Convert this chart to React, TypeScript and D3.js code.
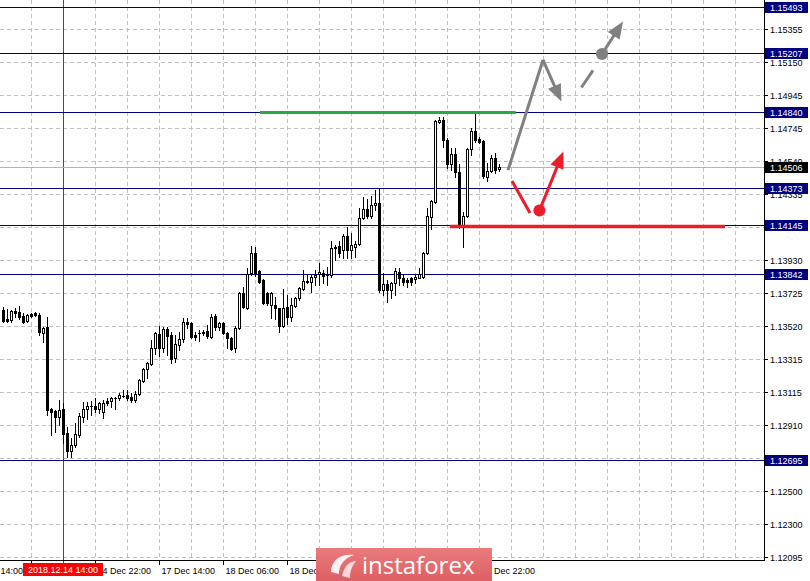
import React from "react";
import * as d3 from "d3";

// ---- data (EURUSD H1 candles) ----
const openP = [
  1.1362, 1.13565, 1.13559, 1.13614, 1.13608, 1.13583, 1.13553, 1.13596, 1.13602, 1.1359,
  1.13478, 1.13515, 1.13009, 1.12997, 1.1296, 1.13009, 1.12861, 1.1275, 1.12787, 1.12849,
  1.1296, 1.13009, 1.13028, 1.13028, 1.13009, 1.12991, 1.13059, 1.13059, 1.13077, 1.13077,
  1.1309, 1.13096, 1.13083, 1.13065, 1.13102, 1.13182, 1.13256, 1.13287, 1.13386, 1.13472,
  1.13386, 1.13503, 1.13466, 1.13324, 1.13404, 1.13441, 1.13547, 1.1354, 1.13466, 1.13478,
  1.13478, 1.13491, 1.13454, 1.13583, 1.13515, 1.1354, 1.13478, 1.13448, 1.13386, 1.13509,
  1.13725, 1.13633, 1.13849, 1.13972, 1.13861, 1.13805, 1.13725, 1.13651, 1.13651, 1.13633,
  1.13522, 1.13639, 1.13577, 1.13645, 1.13694, 1.1375, 1.13793, 1.13793, 1.13824, 1.13843,
  1.13849, 1.13836, 1.13836, 1.14003, 1.14015, 1.1399, 1.14077, 1.1399, 1.14009, 1.14027,
  1.14188, 1.14243, 1.142, 1.14268, 1.14281, 1.13744, 1.13781, 1.13744, 1.13787, 1.13855,
  1.13818, 1.13805, 1.13818, 1.13811, 1.13818, 1.13824, 1.13972, 1.14194, 1.14287, 1.14781,
  1.14793, 1.1467, 1.14522, 1.14583, 1.14472, 1.14145, 1.142, 1.14614, 1.14725, 1.14676,
  1.14664, 1.14441, 1.14478, 1.14559, 1.14491,
];
const highP = [
  1.13639, 1.13626, 1.1362, 1.13633, 1.13645, 1.13602, 1.13596, 1.13602, 1.13608, 1.13602,
  1.13515, 1.13577, 1.13016, 1.13003, 1.13065, 1.13046, 1.12898, 1.1283, 1.12923, 1.12985,
  1.13052, 1.13052, 1.13059, 1.13077, 1.13052, 1.13065, 1.13077, 1.13083, 1.13083, 1.13108,
  1.13127, 1.13127, 1.13108, 1.1312, 1.13194, 1.13262, 1.13299, 1.13435, 1.13485, 1.13522,
  1.13515, 1.13515, 1.13485, 1.13466, 1.13485, 1.13571, 1.13571, 1.13547, 1.13485, 1.13497,
  1.13497, 1.13528, 1.13596, 1.13596, 1.13547, 1.13547, 1.13485, 1.13454, 1.13522, 1.13731,
  1.13762, 1.1388, 1.14015, 1.14009, 1.13867, 1.13811, 1.13731, 1.13731, 1.137, 1.13633,
  1.1375, 1.13713, 1.13694, 1.137, 1.13762, 1.13867, 1.13836, 1.13836, 1.13867, 1.1391,
  1.13867, 1.13886, 1.14046, 1.14021, 1.14046, 1.14089, 1.14132, 1.14095, 1.14046, 1.1425,
  1.14318, 1.14305, 1.14324, 1.14361, 1.14373, 1.13849, 1.13805, 1.13793, 1.1388, 1.1388,
  1.13836, 1.13818, 1.13824, 1.13836, 1.1388, 1.13978, 1.1425, 1.14299, 1.14793, 1.14812,
  1.14812, 1.14682, 1.1462, 1.1462, 1.14521, 1.14225, 1.1462, 1.14744, 1.1483, 1.14688,
  1.1467, 1.14528, 1.14577, 1.14589, 1.14521,
];
const lowP = [
  1.13547, 1.13547, 1.13547, 1.13577, 1.13565, 1.1354, 1.13547, 1.13577, 1.13583, 1.13466,
  1.13423, 1.12972, 1.12849, 1.12868, 1.12911, 1.128, 1.12713, 1.12713, 1.12775, 1.12837,
  1.12929, 1.12948, 1.12972, 1.12991, 1.12985, 1.12954, 1.13034, 1.13022, 1.13009, 1.13065,
  1.13083, 1.13065, 1.13052, 1.13052, 1.13096, 1.13176, 1.13201, 1.13281, 1.13349, 1.13336,
  1.13361, 1.13343, 1.13293, 1.13299, 1.13373, 1.13423, 1.13509, 1.13448, 1.13435, 1.13429,
  1.13466, 1.13448, 1.13448, 1.13497, 1.13497, 1.13472, 1.13386, 1.13373, 1.13361, 1.13503,
  1.13633, 1.13626, 1.13836, 1.1383, 1.13787, 1.13657, 1.13651, 1.13571, 1.13565, 1.13485,
  1.13515, 1.13534, 1.13553, 1.13639, 1.13682, 1.13744, 1.13787, 1.13731, 1.13775, 1.13775,
  1.13787, 1.13775, 1.13824, 1.13929, 1.13947, 1.13941, 1.13941, 1.13941, 1.13947, 1.14021,
  1.14182, 1.14188, 1.14188, 1.14237, 1.13731, 1.13713, 1.1367, 1.13694, 1.13713, 1.13775,
  1.13775, 1.13762, 1.13775, 1.13787, 1.13818, 1.13818, 1.13966, 1.1412, 1.14281, 1.14775,
  1.14626, 1.14497, 1.14484, 1.14441, 1.14126, 1.14009, 1.14194, 1.14577, 1.14657, 1.14651,
  1.14435, 1.14417, 1.14472, 1.14466, 1.14478,
];
const closeP = [
  1.13553, 1.13553, 1.13614, 1.13602, 1.13577, 1.13547, 1.1359, 1.13583, 1.1359, 1.13485,
  1.13509, 1.13003, 1.12991, 1.1296, 1.13003, 1.12855, 1.1275, 1.12787, 1.12855, 1.12966,
  1.13009, 1.13028, 1.1303, 1.13009, 1.13046, 1.13046, 1.13046, 1.13077, 1.13079, 1.13096,
  1.13092, 1.13077, 1.13065, 1.13102, 1.13188, 1.13256, 1.13293, 1.13386, 1.13478, 1.13386,
  1.13503, 1.1346, 1.13318, 1.1341, 1.13441, 1.13547, 1.13534, 1.13454, 1.13454, 1.1348,
  1.13485, 1.1346, 1.13577, 1.13515, 1.1354, 1.13478, 1.13448, 1.1338, 1.13509, 1.13725,
  1.13639, 1.13843, 1.13972, 1.13849, 1.13793, 1.13664, 1.13664, 1.13725, 1.13633, 1.13522,
  1.13633, 1.13577, 1.13651, 1.13694, 1.13756, 1.13799, 1.13799, 1.13824, 1.13836, 1.13855,
  1.1383, 1.13838, 1.14003, 1.14009, 1.13972, 1.14077, 1.1399, 1.14021, 1.14027, 1.14188,
  1.14243, 1.142, 1.14268, 1.14281, 1.13744, 1.13781, 1.13744, 1.13787, 1.13861, 1.13818,
  1.13793, 1.13793, 1.13793, 1.13824, 1.13843, 1.13972, 1.142, 1.14293, 1.14787, 1.14793,
  1.1467, 1.14522, 1.14583, 1.14472, 1.14145, 1.142, 1.14614, 1.14725, 1.1467, 1.14657,
  1.14448, 1.14478, 1.14559, 1.14484, 1.14506,
];

const priceTicks = [
  1.15355, 1.1515, 1.14945, 1.14745, 1.1454, 1.14335, 1.1413, 1.1393, 1.13725, 1.1352,
  1.13315, 1.13115, 1.1291, 1.12705, 1.125, 1.123, 1.12095,
];
const levelPrices = [1.15493, 1.15207, 1.1484, 1.14373, 1.14145, 1.13842, 1.12695];
const currentPrice = 1.14506;

const timeTickIdx = [-9, 7, 23, 39, 55, 71, 87, 103, 119];
const timeTickLabels = [
  "13 Dec 14:00", "14 Dec 06:00", "14 Dec 22:00", "17 Dec 14:00", "18 Dec 06:00",
  "18 Dec 22:00", "19 Dec 14:00", "20 Dec 06:00", "20 Dec 22:00",
];
const crossIdx = 15;
const crossLabel = "2018.12.14 14:00";

// annotations in (candle index, price) units
const greenLine = { from: 64.25, to: 128.2, price: 1.1484 };
const redLine = { from: 111.75, to: 180.5, price: 1.14136 };
const grayPath = [[126.25, 1.14484], [135, 1.15164], [139.6, 1.14907]];
const grayDash = [[144.6, 1.14994], [147.5, 1.15099]];
const grayDot = [149.75, 1.15201];
const grayTip = [155, 1.15401];
const redPath = [[127.25, 1.14417], [131.75, 1.14219]];
const redDot = [134.1, 1.14234];
const redTip = [140.1, 1.14599];

const W = 810, H = 581, PR = 764, PB = 560;
const FONT = "'Liberation Sans', Arial, sans-serif";

export default function App() {
  const x = d3.scaleLinear().domain([0, 124]).range([3, 499]);
  const y = d3.scaleLinear().domain([1.15534, 1.12077]).range([0, 560]);
  const n = closeP.length;
  const gridIdx = d3.range(7, 185, 8);

  const arrowHead = (p1: number[], p2: number[], len: number, hw: number, color: string) => {
    const x1 = x(p1[0]), y1 = y(p1[1]), x2 = x(p2[0]), y2 = y(p2[1]);
    const dx = x2 - x1, dy = y2 - y1, L = Math.hypot(dx, dy);
    const ux = dx / L, uy = dy / L;
    const bx = x2 - ux * len, by = y2 - uy * len;
    const px = -uy * hw, py = ux * hw;
    return (
      <g>
        <line x1={x1} y1={y1} x2={bx + ux * 2} y2={by + uy * 2} stroke={color} strokeWidth={3} />
        <path d={`M${x2},${y2}L${bx + px},${by + py}L${bx - px},${by - py}Z`} fill={color} />
      </g>
    );
  };

  const line = d3.line<number[]>().x((d) => x(d[0])).y((d) => y(d[1]));
  const gray = "#808080";
  const red = "#ec1c2a";

  // visible windows of the time axis (crosshair label and logo cover the rest)
  const crossX = Math.round(x(crossIdx));
  const crossBox = [crossX - 40, crossX + 40];
  const logoBox = [316, 492];

  return (
    <svg width={W} height={H} style={{ position: "absolute", left: 0, top: 0, background: "#fff" }}>
      <defs>
        <linearGradient id="logoG" x1="0" y1="0" x2="0" y2="1">
          <stop offset="0" stopColor="#ea7b7d" />
          <stop offset="1" stopColor="#dc5f63" />
        </linearGradient>
        <clipPath id="plotClip"><rect x={0} y={0} width={PR} height={PB} /></clipPath>
        <clipPath id="timeClip">
          <rect x={0} y={PB + 1} width={crossBox[0]} height={20} />
          <rect x={crossBox[1]} y={PB + 1} width={logoBox[0] - crossBox[1]} height={20} />
          <rect x={logoBox[1]} y={PB + 1} width={PR - logoBox[1]} height={20} />
        </clipPath>
      </defs>
      <rect x={0} y={0} width={W} height={H} fill="#fff" />
      {/* grid */}
      <g stroke="#c0c0c0" strokeDasharray="4,3" strokeWidth={1}>
        {gridIdx.map((i) => (
          <line key={"v" + i} x1={x(i) + 0.5} x2={x(i) + 0.5} y1={0} y2={PB} />
        ))}
        {priceTicks.map((p) => (
          <line key={"h" + p} x1={0} x2={PR} y1={Math.round(y(p)) + 0.5} y2={Math.round(y(p)) + 0.5} />
        ))}
      </g>
      {/* crosshair */}
      <line x1={crossX + 0.5} x2={crossX + 0.5} y1={0} y2={PB + 5} stroke="#ff0000" strokeWidth={1} />
      {/* current price line */}
      <line x1={0} x2={PR} y1={Math.round(y(currentPrice)) + 0.5} y2={Math.round(y(currentPrice)) + 0.5} stroke="#b4b4b4" strokeWidth={1} />
      {/* level lines */}
      {levelPrices.map((p) => (
        <line key={"l" + p} x1={0} x2={PR} y1={Math.round(y(p)) + 0.5} y2={Math.round(y(p)) + 0.5} stroke="#000080" strokeWidth={1.2} />
      ))}
      {/* candles */}
      <g clipPath="url(#plotClip)">
        {d3.range(n).map((i) => {
          const cx = Math.round(x(i));
          const o = openP[i], c = closeP[i];
          const yt = Math.round(y(Math.max(o, c)));
          const yb = Math.round(y(Math.min(o, c)));
          const up = c >= o;
          return (
            <g key={i}>
              <line x1={cx + 0.5} x2={cx + 0.5} y1={Math.round(y(highP[i]))} y2={Math.round(y(lowP[i])) + 1} stroke="#000" strokeWidth={1} />
              {yb - yt < 1 ? (
                <line x1={cx - 1} x2={cx + 2} y1={yt + 0.5} y2={yt + 0.5} stroke="#000" strokeWidth={1} />
              ) : (
                <rect x={cx - 0.5} y={yt + 0.5} width={2} height={yb - yt} fill={up ? "#fff" : "#000"} stroke="#000" strokeWidth={1} />
              )}
            </g>
          );
        })}
      </g>
      {/* support / resistance */}
      <line x1={x(greenLine.from)} x2={x(greenLine.to)} y1={y(greenLine.price)} y2={y(greenLine.price)} stroke="#2aa947" strokeWidth={3} />
      <line x1={x(redLine.from)} x2={x(redLine.to)} y1={y(redLine.price)} y2={y(redLine.price)} stroke={red} strokeWidth={3.5} />
      {/* gray scenario */}
      <path d={line(grayPath.slice(0, 2)) || ""} fill="none" stroke={gray} strokeWidth={3} />
      {arrowHead(grayPath[1], grayPath[2], 17, 7, gray)}
      <path d={line(grayDash) || ""} fill="none" stroke={gray} strokeWidth={3} />
      <circle cx={x(grayDot[0])} cy={y(grayDot[1])} r={6} fill={gray} />
      {arrowHead(grayDot, grayTip, 17, 7, gray)}
      {/* red scenario */}
      <path d={line(redPath) || ""} fill="none" stroke={red} strokeWidth={3} />
      <circle cx={x(redDot[0])} cy={y(redDot[1])} r={6} fill={red} />
      {arrowHead(redDot, redTip, 17, 7, red)}
      {/* axes */}
      <line x1={PR + 0.5} x2={PR + 0.5} y1={0} y2={PB + 1} stroke="#000" />
      <line x1={0} x2={PR + 1} y1={PB + 0.5} y2={PB + 0.5} stroke="#000" />
      {priceTicks.map((p) => {
        const yy = Math.round(y(p)) + 0.5;
        return (
          <g key={"t" + p}>
            <line x1={PR} x2={PR + 4} y1={yy} y2={yy} stroke="#000" />
            <text x={770} y={yy + 3.5} fontSize={9} fontFamily={FONT} fill="#000">{p.toFixed(5)}</text>
          </g>
        );
      })}
      {timeTickIdx.map((i) => {
        const xx = Math.round(x(i)) + 0.5;
        return <line key={"xt" + i} x1={xx} x2={xx} y1={PB} y2={PB + 5} stroke="#000" />;
      })}
      <g clipPath="url(#timeClip)">
        {timeTickIdx.map((i, j) => {
          const xx = Math.round(x(i)) + 0.5;
          return (
            <text key={"x" + i} x={xx + 2} y={574} fontSize={9} fontFamily={FONT} fill="#000">{timeTickLabels[j]}</text>
          );
        })}
      </g>
      {/* crosshair label */}
      <rect x={crossBox[0]} y={563} width={80} height={13} fill="#ff0000" />
      <text x={crossX} y={573} textAnchor="middle" fontSize={9} fontFamily={FONT} fill="#fff">{crossLabel}</text>
      {/* level labels */}
      {levelPrices.map((p) => {
        const yy = Math.round(y(p));
        return (
          <g key={"lb" + p}>
            <rect x={765} y={yy - 5} width={43} height={11} fill="#000080" />
            <text x={770} y={yy + 4} fontSize={9} fontFamily={FONT} fill="#fff">{p.toFixed(5)}</text>
          </g>
        );
      })}
      <g>
        <rect x={765} y={Math.round(y(currentPrice)) - 5} width={43} height={11} fill="#000" />
        <text x={770} y={Math.round(y(currentPrice)) + 4} fontSize={9} fontFamily={FONT} fill="#fff">{currentPrice.toFixed(5)}</text>
      </g>
      {/* logo */}
      <g>
        <rect x={logoBox[0]} y={548} width={logoBox[1] - logoBox[0]} height={33} fill="url(#logoG)" />
        <path d="M331,572 C331,560 341,553 354,555 C345,558 339,564 339,574 Z" fill="#fff" opacity={0.9} />
        <path d="M342,576 C344,566 350,561 356,561 C352,566 350,571 350,578 Z" fill="#fff" opacity={0.75} />
        <text x={362} y={574} fontSize={24} fontFamily="'Open Sans', sans-serif" fill="#fff">instaforex</text>
      </g>
    </svg>
  );
}
